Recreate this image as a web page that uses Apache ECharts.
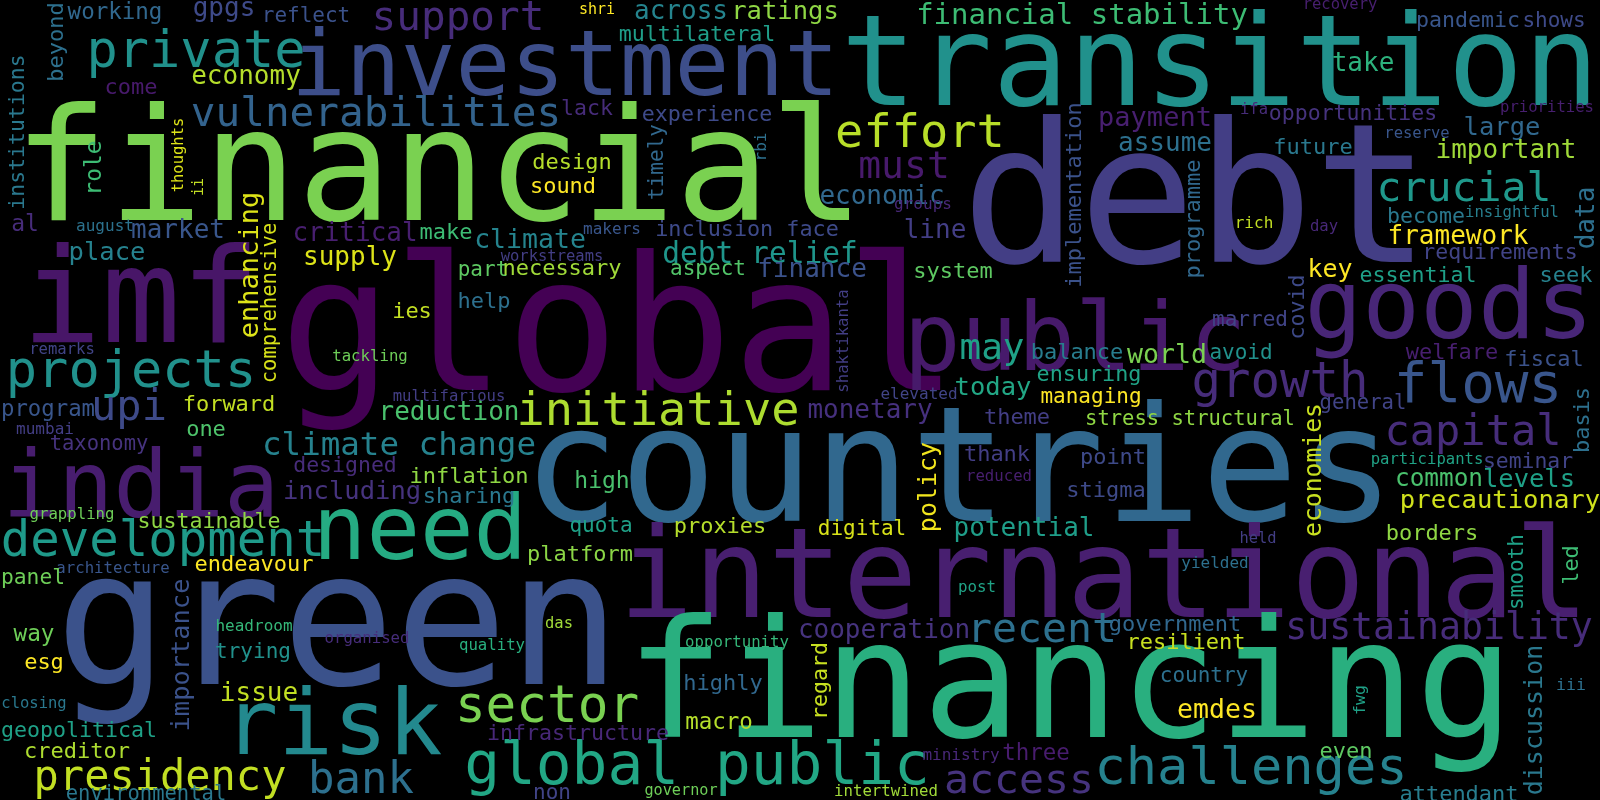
<!DOCTYPE html>
<html>
<head>
<meta charset="utf-8">
<script src="https://cdn.jsdelivr.net/npm/echarts@6/dist/echarts.min.js"></script>
<style>
  html, body { margin: 0; padding: 0; background: #000; }
  #cloud { width: 1600px; height: 800px; }
</style>
</head>
<body>
<div id="cloud"></div>
<script>
// each row: word, font size (weight), x, y (centre of the lowercase band), colour
var headline = [
  ['financial', 157, 439, 171, '#7ad151'],
  ['transition', 126, 1220, 66, '#21918c'],
  ['debt', 195, 1196, 202, '#433e85'],
  ['global', 188, 619, 332, '#440154'],
  ['countries', 161, 959, 471, '#31688e'],
  ['international', 124, 1104, 579, '#481f70'],
  ['green', 188, 338, 626, '#3b528b'],
  ['financing', 164, 1070, 686, '#29af7f'],
  ['investment', 91, 565, 67, '#3d4e8a'],
  ['imf', 132, 141, 301, '#481668'],
  ['india', 92, 141, 488, '#481d6f'],
  ['need', 89, 420, 531, '#25ab82'],
  ['public', 95, 1075, 341, '#471a6b'],
  ['goods', 96, 1449, 308, '#482677'],
  ['risk', 91, 333, 726, '#23898e']
];

var mid = [
  ['projects', 52, 131, 371, '#21918c'],
  ['private', 52, 196, 51, '#21918c'],
  ['development', 49, 163, 541, '#1f9a8a'],
  ['sector', 51, 547, 706, '#7ad151'],
  ['global public', 59.5, 697, 766, '#22a785'],
  ['challenges', 52, 1251, 768, '#26828e'],
  ['flows', 56, 1478, 385, '#39568c'],
  ['growth', 49, 1280, 382, '#472c7a'],
  ['initiative', 47, 658, 410, '#addc30'],
  ['effort', 47, 920, 132, '#b8de29'],
  ['vulnerabilities', 41, 376, 113, '#33638d'],
  ['crucial', 41.5, 1464, 188, '#1f988b'],
  ['capital', 42, 1473, 432, '#472d7b'],
  ['presidency', 42, 160, 777, '#c2df23'],
  ['recent', 41.5, 1042, 629, '#2d708e'],
  ['access', 41.5, 1019, 780, '#46337e'],
  ['upi', 42, 129, 407, '#3e4a89'],
  ['bank', 44, 361, 779, '#2d708e'],
  ['support', 41, 458, 17, '#472c7a'],
  ['sustainability', 36.5, 1439, 628, '#472c7a'],
  ['must', 38, 904, 166, '#481a6c'],
  ['may', 36, 992, 348, '#1fa187'],
  ['climate change', 32.5, 399, 445, '#26828e']
];

var small = [
  ['working', 22.5, 115, 12, '#31688e'],
  ['gpgs', 26, 224, 8, '#3e4a89'],
  ['reflect', 21, 306, 15, '#3b528b'],
  ['shri', 15, 597, 9, '#fde725'],
  ['across', 26, 681, 11, '#25848e'],
  ['ratings', 25.5, 785, 11, '#8fd744'],
  ['multilateral', 21.7, 697, 34, '#1f9e89'],
  ['financial stability', 29, 1082, 15, '#3dbc74'],
  ['recovery', 15.5, 1340, 4, '#481f70'],
  ['pandemic', 21.6, 1468, 20, '#39568c'],
  ['shows', 21, 1554, 20, '#3e4a89'],
  ['economy', 26, 246, 76, '#b5de2b'],
  ['come', 22, 131, 87, '#481a6c'],
  ['take', 26, 1363, 63, '#2db27d'],
  ['lack', 21.5, 587, 108, '#472c7a'],
  ['experience', 21.7, 707, 114, '#3e4a89'],
  ['ifa', 15.5, 1254, 109, '#472c7a'],
  ['opportunities', 21.5, 1353, 113, '#46337e'],
  ['priorities', 15.6, 1547, 107, '#481f70'],
  ['payment', 27, 1155, 118, '#481f70'],
  ['large', 25.5, 1502, 127, '#31688e'],
  ['reserve', 15.5, 1417, 133, '#39568c'],
  ['assume', 26, 1165, 143, '#2d708e'],
  ['future', 22, 1313, 147, '#2a788e'],
  ['important', 26, 1506, 150, '#a0da39'],
  ['design', 22, 572, 162, '#b5de2b'],
  ['sound', 22, 563, 186, '#fde725'],
  ['economic', 26, 882, 196, '#31688e'],
  ['groups', 16, 923, 204, '#482878'],
  ['become', 21.6, 1426, 216, '#2a788e'],
  ['insightful', 15.6, 1512, 212, '#277f8e'],
  ['rich', 16, 1254, 223, '#c2df23'],
  ['day', 15.6, 1324, 226, '#482878'],
  ['al', 23, 25, 224, '#472c7a'],
  ['august', 16, 105, 226, '#2c728e'],
  ['market', 26, 178, 230, '#39568c'],
  ['critical', 26, 355, 233, '#481f70'],
  ['make', 22, 446, 232, '#3dbc74'],
  ['makers', 16, 612, 229, '#39568c'],
  ['climate', 26.5, 530, 240, '#25848e'],
  ['inclusion face', 21.8, 747, 229, '#3e4a89'],
  ['line', 26, 935, 230, '#433e85'],
  ['framework', 26, 1458, 236, '#fde725'],
  ['debt relief', 29.5, 760, 254, '#1f968b'],
  ['requirements', 21.5, 1500, 252, '#414487'],
  ['place', 25.5, 107, 252, '#26828e'],
  ['supply', 26, 350, 257, '#dde318'],
  ['workstreams', 15.5, 552, 256, '#433e85'],
  ['part', 21, 483, 269, '#5ec962'],
  ['necessary', 22, 562, 268, '#a0da39'],
  ['aspect', 21, 708, 268, '#52c569'],
  ['finance', 26, 812, 269, '#3b528b'],
  ['system', 22, 953, 271, '#5ec962'],
  ['key', 25, 1330, 269, '#fde725'],
  ['essential', 21.6, 1418, 275, '#1fa088'],
  ['seek', 22, 1566, 275, '#26828e'],
  ['remarks', 15.6, 62, 349, '#414487'],
  ['tackling', 15.7, 370, 356, '#6ece58'],
  ['ies', 22, 412, 311, '#c2df23'],
  ['help', 22, 484, 301, '#2d708e'],
  ['marred', 21, 1250, 319, '#414487'],
  ['avoid', 21, 1241, 352, '#21918c'],
  ['welfare', 22, 1452, 352, '#481f70'],
  ['fiscal', 22, 1544, 359, '#3b528b'],
  ['balance', 22, 1077, 352, '#287d8e'],
  ['world', 26.5, 1167, 355, '#7ad151'],
  ['ensuring', 21.8, 1089, 374, '#20a386'],
  ['today', 25.5, 993, 387, '#22a785'],
  ['elevated', 16, 919, 394, '#414487'],
  ['managing', 21, 1091, 396, '#fde725'],
  ['program', 22.3, 48, 409, '#39568c'],
  ['forward', 22, 229, 404, '#c2df23'],
  ['reduction', 26, 449, 412, '#4ac16d'],
  ['multifarious', 15.6, 449, 396, '#433e85'],
  ['general', 20.6, 1363, 403, '#414487'],
  ['monetary', 26, 870, 410, '#46307e'],
  ['theme', 22, 1017, 417, '#433e85'],
  ['stress structural', 20.5, 1190, 419, '#8fd744'],
  ['mumbai', 16, 45, 429, '#433e85'],
  ['one', 22, 206, 429, '#4ec36b'],
  ['taxonomy', 20.5, 99, 444, '#46337e'],
  ['thank', 22, 997, 454, '#433e85'],
  ['point', 22, 1113, 457, '#3e4a89'],
  ['designed', 21.5, 345, 465, '#472c7a'],
  ['including', 25.5, 352, 491, '#46337e'],
  ['reduced', 15.7, 999, 476, '#481f70'],
  ['inflation', 22, 469, 476, '#8fd744'],
  ['high', 23, 602, 481, '#4ac16d'],
  ['sharing', 22, 469, 496, '#2a788e'],
  ['stigma', 22, 1106, 490, '#3e4a89'],
  ['participants', 15.6, 1427, 459, '#20a386'],
  ['seminar', 21.4, 1528, 461, '#414487'],
  ['common', 24.4, 1439, 478, '#4ac16d'],
  ['levels', 25.5, 1529, 479, '#1fa187'],
  ['precautionary', 25.6, 1500, 500, '#d0e11c'],
  ['grappling', 15.7, 72, 514, '#6ece58'],
  ['sustainable', 21.6, 209, 521, '#8fd744'],
  ['quota', 21, 601, 525, '#1fa187'],
  ['proxies', 22, 720, 526, '#b5de2b'],
  ['digital', 21, 862, 528, '#d8e219'],
  ['potential', 26, 1024, 528, '#1f9e89'],
  ['held', 15.4, 1258, 538, '#433e85'],
  ['borders', 22, 1432, 533, '#8fd744'],
  ['platform', 22, 580, 554, '#8bd646'],
  ['yielded', 16, 1215, 563, '#2d708e'],
  ['endeavour', 22, 254, 564, '#fde725'],
  ['architecture', 15.7, 113, 568, '#39568c'],
  ['panel', 21.3, 33, 577, '#6ece58'],
  ['post', 15.8, 977, 587, '#20a386'],
  ['government', 22, 1175, 624, '#31688e'],
  ['headroom', 16, 254, 626, '#35b779'],
  ['das', 15.5, 559, 623, '#a0da39'],
  ['cooperation', 26, 884, 630, '#46337e'],
  ['way', 22.7, 34, 634, '#6ece58'],
  ['organised', 15.7, 367, 638, '#472d7b'],
  ['quality', 15.7, 492, 645, '#29af7f'],
  ['opportunity', 15.7, 737, 642, '#35b779'],
  ['resilient', 22, 1186, 642, '#c8e020'],
  ['trying', 21, 253, 651, '#21918c'],
  ['esg', 22, 44, 662, '#fde725'],
  ['country', 21, 1204, 675, '#2d708e'],
  ['highly', 22, 723, 683, '#31688e'],
  ['iii', 16.5, 1571, 685, '#2d708e'],
  ['issue', 26, 259, 693, '#c2df23'],
  ['closing', 15.5, 34, 703, '#2a788e'],
  ['emdes', 26.5, 1217, 710, '#fde725'],
  ['macro', 22.5, 719, 722, '#b5de2b'],
  ['geopolitical', 21.6, 79, 730, '#1fa187'],
  ['infrastructure', 21.6, 578, 733, '#482878'],
  ['creditor', 22, 77, 751, '#addc30'],
  ['even', 22, 1346, 751, '#5ec962'],
  ['three', 22.5, 1036, 753, '#481c6e'],
  ['ministry', 16, 961, 755, '#482878'],
  ['governor', 15.2, 681, 790, '#6ece58'],
  ['intertwined', 15.7, 886, 791, '#a0da39'],
  ['non', 21, 552, 792, '#414487'],
  ['environmental', 20.5, 146, 794, '#2a788e'],
  ['attendant', 22, 1459, 794, '#287d8e']
];

// words set on end, reading bottom to top
var upright = [
  ['beyond', 22, 56, 42, '#2d708e'],
  ['institutions', 21.5, 17, 132, '#2a788e'],
  ['role', 23, 94, 168, '#3dbc74'],
  ['thoughts', 15.5, 178, 155, '#dde318'],
  ['ii', 15, 198, 187, '#c2df23'],
  ['enhancing', 27, 250, 265, '#dde318'],
  ['comprehensive', 20.5, 270, 303, '#d8e219'],
  ['timely', 21, 656, 162, '#31688e'],
  ['rbi', 16, 761, 147, '#2d708e'],
  ['implementation', 22, 1074, 195, '#3b528b'],
  ['programme', 22, 1193, 219, '#31688e'],
  ['data', 26, 1586, 218, '#2d708e'],
  ['shaktikanta', 15.6, 843, 341, '#433e85'],
  ['covid', 21.6, 1297, 307, '#3e4a89'],
  ['policy', 25, 928, 487, '#f1e51d'],
  ['economies', 24.7, 1313, 470, '#c8e020'],
  ['basis', 22, 1582, 420, '#2d708e'],
  ['importance', 25.4, 181, 655, '#3b528b'],
  ['regard', 21.6, 820, 681, '#c8e020'],
  ['smooth', 21, 1516, 572, '#1fa187'],
  ['led', 22, 1571, 565, '#3dbc74'],
  ['fwg', 16.5, 1360, 700, '#1fa187'],
  ['discussion', 25, 1534, 720, '#2a788e']
];

// offset between the label anchor and the lowercase band, in ems
var LIFT = -0.05;

function toItems(rows, turned) {
  return rows.map(function (r) {
    var s = r[1], d = s * LIFT;
    return {
      name: r[0],
      value: turned ? [r[2] - d, r[3]] : [r[2], r[3] - d],
      label: { fontSize: s, color: r[4], rotate: turned ? 90 : 0 }
    };
  });
}

var cloudData = toItems(headline, false)
  .concat(toItems(mid, false))
  .concat(toItems(small, false))
  .concat(toItems(upright, true));

var chart = echarts.init(document.getElementById('cloud'));
chart.setOption({
  backgroundColor: '#000000',
  animation: false,
  grid: { left: 0, right: 0, top: 0, bottom: 0 },
  xAxis: { type: 'value', min: 0, max: 1600, show: false },
  yAxis: { type: 'value', min: 0, max: 800, inverse: true, show: false },
  series: [{
    type: 'scatter',
    silent: true,
    clip: false,
    symbolSize: 1,
    itemStyle: { color: 'rgba(0,0,0,0)', opacity: 1 },
    label: {
      show: true,
      position: 'inside',
      formatter: '{b}',
      fontFamily: 'DejaVu Sans Mono',
      fontWeight: 'normal',
      opacity: 1
    },
    labelLayout: { hideOverlap: false },
    data: cloudData
  }]
});
window.addEventListener('resize', chart.resize);
</script>
</body>
</html>
